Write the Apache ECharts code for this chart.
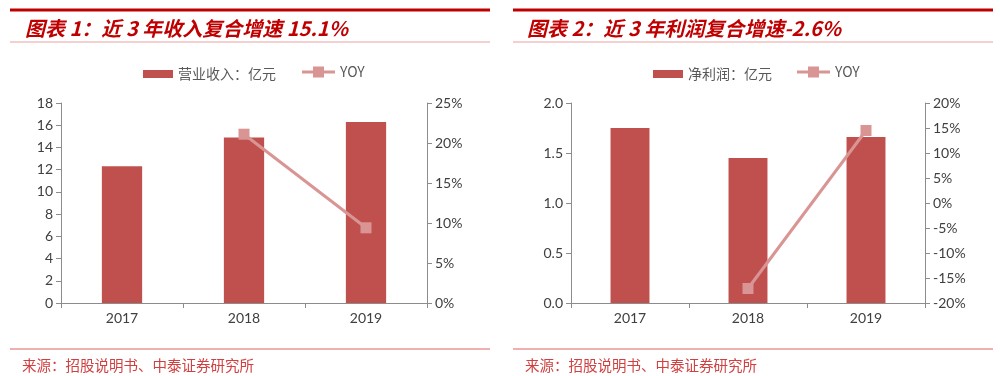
<!DOCTYPE html>
<html>
<head>
<meta charset="utf-8">
<script src="https://cdn.jsdelivr.net/npm/echarts@6/dist/echarts.min.js"></script>
<style>
  html, body { margin: 0; padding: 0; background: #fff; }
  #main { width: 1000px; height: 376px; }
</style>
</head>
<body>
<div id="main"></div>
<script>
// 数据
const years = ['2017', '2018', '2019'];
const revenue = [12.3, 14.9, 16.3];
const revenueYoy = [null, 21.1, 9.4];
const profit = [1.75, 1.45, 1.66];
const profitYoy = [null, -17.1, 14.5];

const barColor = '#C0504D';
const lineColor = '#D99594';
const redTitle = '#C00000';
const axisColor = '#8C8C8C';
const labelFont = 'Lato, "Noto Sans", sans-serif';
const cjkFont = '"Noto Sans CJK SC", sans-serif';
// 折线图例：粗线加方块
const yoyIcon = 'path://M0,4L11,4L11,0L22,0L22,4L33,4L33,7L22,7L22,11L11,11L11,7L0,7Z';

const chart = echarts.init(document.getElementById('main'));

function axisBase() {
    return {
        axisLine: { show: true, lineStyle: { color: axisColor, width: 1 } },
        axisTick: { show: true, length: 5, lineStyle: { color: axisColor } },
        splitLine: { show: false },
        axisLabel: { color: '#404040', fontSize: 14, fontFamily: labelFont }
    };
}

function ruleLines(x1, x2) {
    return [
        { type: 'line', shape: { x1: x1, y1: 10, x2: x2, y2: 10 }, style: { stroke: redTitle, lineWidth: 3 } },
        { type: 'line', shape: { x1: x1, y1: 42, x2: x2, y2: 42 }, style: { stroke: '#E8A0A0', lineWidth: 1 } },
        { type: 'line', shape: { x1: x1, y1: 349, x2: x2, y2: 349 }, style: { stroke: '#E06060', lineWidth: 1 } }
    ];
}

// 图例：柱子和折线分开，方便各自设置图标大小
function legends(barName, barLeft, lineLeft) {
    const txt = { color: '#595959', fontSize: 14, fontFamily: cjkFont };
    return [
        { data: [{ name: barName, icon: 'rect' }], left: barLeft, top: 62,
          itemWidth: 30, itemHeight: 8, textStyle: txt },
        { data: [{ name: 'YOY', icon: yoyIcon }], left: lineLeft, top: 60,
          itemWidth: 33, itemHeight: 11, itemGap: 4, textStyle: txt }
    ];
}

const option = {
    animation: false,
    title: [
        { text: '图表 1：近 3 年收入复合增速 15.1%', left: 20, top: 13,
          textStyle: { color: redTitle, fontSize: 20, fontStyle: 'italic', fontWeight: 'bold', fontFamily: cjkFont } },
        { text: '图表 2：近 3 年利润复合增速-2.6%', left: 522, top: 13,
          textStyle: { color: redTitle, fontSize: 20, fontStyle: 'italic', fontWeight: 'bold', fontFamily: cjkFont } },
        { text: '来源：招股说明书、中泰证券研究所', left: 17, top: 353,
          textStyle: { color: '#D04040', fontSize: 14.5, fontWeight: 'normal', fontFamily: cjkFont } },
        { text: '来源：招股说明书、中泰证券研究所', left: 520, top: 353,
          textStyle: { color: '#D04040', fontSize: 14.5, fontWeight: 'normal', fontFamily: cjkFont } }
    ],
    graphic: ruleLines(10, 490).concat(ruleLines(513, 993)),
    legend: legends('营业收入：亿元', 138, 297).concat(legends('净利润：亿元', 648, 792)),
    grid: [
        { left: 61, top: 103, width: 366, height: 200 },
        { left: 571, top: 103, width: 354, height: 200 }
    ],
    xAxis: [
        Object.assign(axisBase(), { type: 'category', data: years, gridIndex: 0 }),
        Object.assign(axisBase(), { type: 'category', data: years, gridIndex: 1 })
    ],
    yAxis: [
        Object.assign(axisBase(), { type: 'value', gridIndex: 0, min: 0, max: 18, interval: 2 }),
        Object.assign(axisBase(), { type: 'value', gridIndex: 0, position: 'right', min: 0, max: 25, interval: 5,
            axisLabel: { color: '#404040', fontSize: 14, fontFamily: labelFont, formatter: '{value}%' } }),
        Object.assign(axisBase(), { type: 'value', gridIndex: 1, min: 0, max: 2, interval: 0.5,
            axisLabel: { color: '#404040', fontSize: 14, fontFamily: labelFont, formatter: v => v.toFixed(1) } }),
        Object.assign(axisBase(), { type: 'value', gridIndex: 1, position: 'right', min: -20, max: 20, interval: 5,
            axisLabel: { color: '#404040', fontSize: 14, fontFamily: labelFont, formatter: '{value}%' } })
    ],
    series: [
        { name: '营业收入：亿元', type: 'bar', xAxisIndex: 0, yAxisIndex: 0, data: revenue,
          barWidth: '33%', itemStyle: { color: barColor } },
        { name: 'YOY', type: 'line', xAxisIndex: 0, yAxisIndex: 1, data: revenueYoy,
          symbol: 'rect', symbolSize: 11, lineStyle: { color: lineColor, width: 3 },
          itemStyle: { color: lineColor } },
        { name: '净利润：亿元', type: 'bar', xAxisIndex: 1, yAxisIndex: 2, data: profit,
          barWidth: '33%', itemStyle: { color: barColor } },
        { name: 'YOY', type: 'line', xAxisIndex: 1, yAxisIndex: 3, data: profitYoy,
          symbol: 'rect', symbolSize: 11, lineStyle: { color: lineColor, width: 3 },
          itemStyle: { color: lineColor } }
    ]
};

chart.setOption(option);
</script>
</body>
</html>
